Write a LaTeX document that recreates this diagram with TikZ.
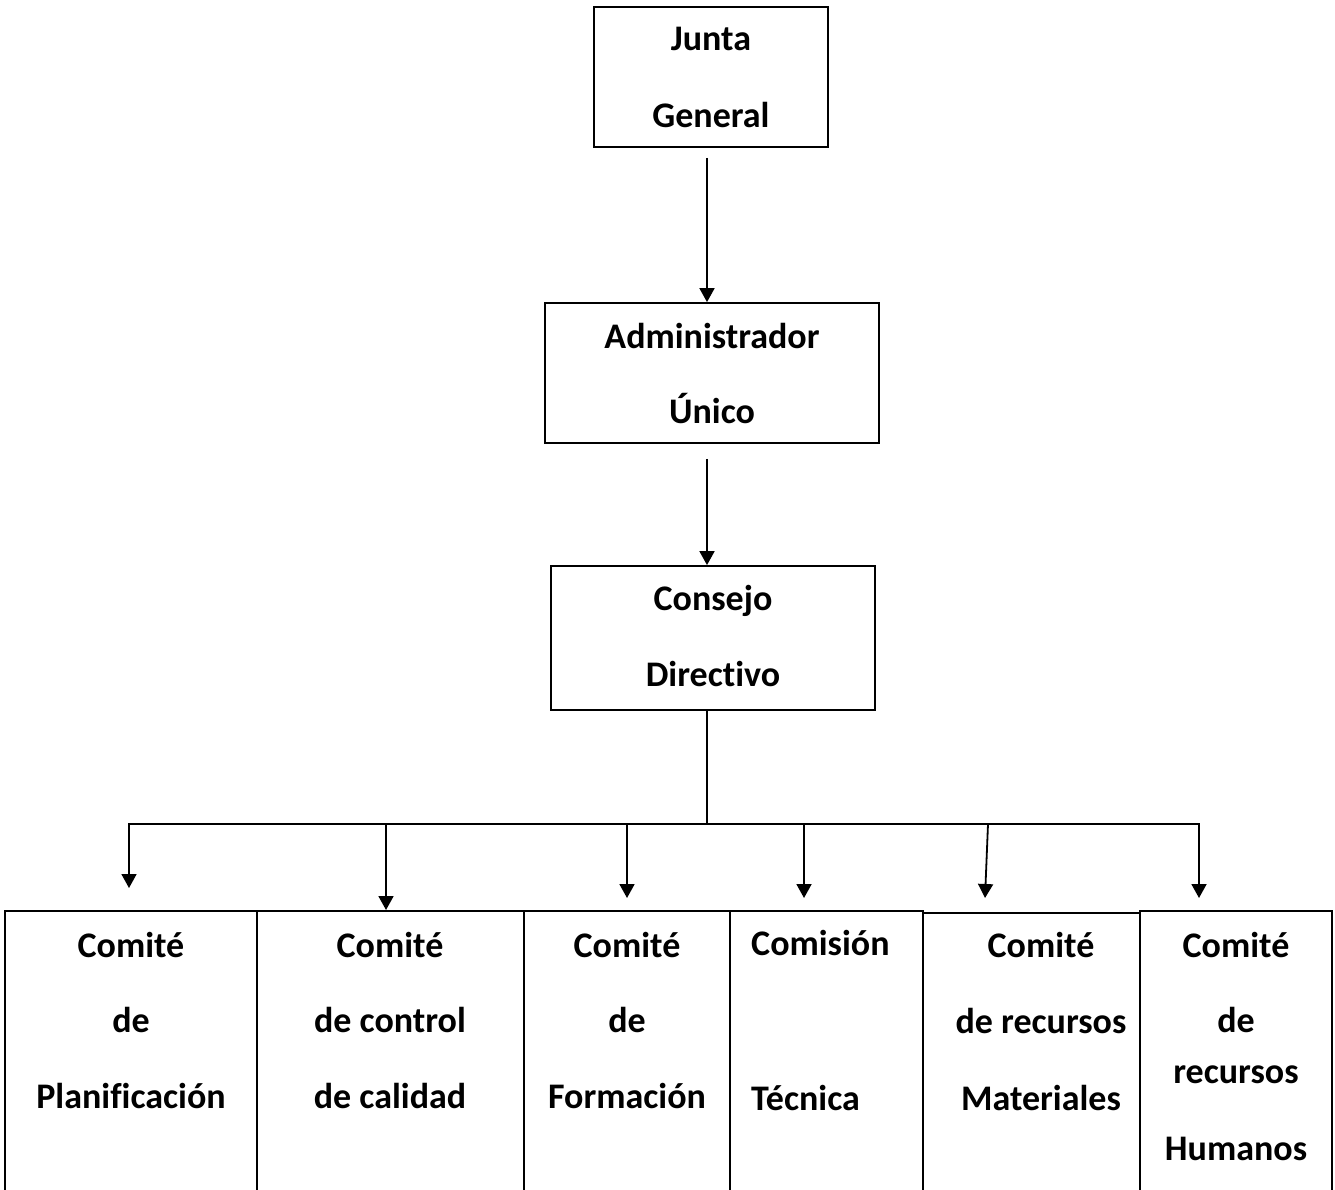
\documentclass[tikz,border=0pt]{standalone}
\usepackage{fontspec}
\setmainfont{Carlito}[Ligatures={NoCommon,NoRare}]
\usetikzlibrary{arrows.meta}
\tikzset{
  box/.style={draw, line width=1.8pt, inner sep=0pt},
  lbl/.style={anchor=base, inner sep=0pt, font=\fontsize{36}{40}\selectfont\bfseries},
  lbll/.style={lbl, anchor=base west},
  con/.style={line width=1.8pt},
  arr/.style={con, -{Triangle[length=14pt,width=15pt]}}
}
\begin{document}
\begin{tikzpicture}[x=1pt,y=-1pt]
\clip (0,0) rectangle (1335,1190);
% top boxes
\node[box, minimum width=234pt, minimum height=140pt] (jg) at (711,77) {};
\node[box, minimum width=334pt, minimum height=140pt] (ad) at (712,373) {};
\node[box, minimum width=324pt, minimum height=144pt] (cd) at (713,638) {};
\node[lbl] (jg1) at (711,51) {Junta};
\node[lbl] (jg2) at (711,128) {General};
\node[lbl] (ad1) at (712,348) {Administrador};
\node[lbl] (ad2) at (712,423) {Único};
\node[lbl] (cd1) at (713,610) {Consejo};
\node[lbl] (cd2) at (713,686) {Directivo};
% bottom boxes
\node[box, minimum width=252pt, minimum height=289pt] (b1) at (131,1055.5) {};
\node[box, minimum width=267pt, minimum height=289pt] (b2) at (390.5,1055.5) {};
\node[box, minimum width=206pt, minimum height=289pt] (b3) at (627,1055.5) {};
\node[box, minimum width=193pt, minimum height=289pt] (b4) at (826.5,1055.5) {};
\node[box, minimum width=217pt, minimum height=287pt] (b5) at (1031.5,1056.5) {};
\node[box, minimum width=192pt, minimum height=289pt] (b6) at (1236,1055.5) {};
\node[lbl] (b1a) at (131,957) {Comité};
\node[lbl] (b1b) at (131,1032) {de};
\node[lbl] (b1c) at (131,1108) {Planificación};
\node[lbl] (b2a) at (390,957) {Comité};
\node[lbl] (b2b) at (390,1032) {de control};
\node[lbl] (b2c) at (390,1108) {de calidad};
\node[lbl] (b3a) at (627,957) {Comité};
\node[lbl] (b3b) at (627,1032) {de};
\node[lbl] (b3c) at (627,1108) {Formación};
\node[lbll] (b4a) at (751,955) {Comisión};
\node[lbll] (b4b) at (751,1110) {Técnica};
\node[lbl] (b5a) at (1041,957) {Comité};
\node[lbl] (b5b) at (1041,1033) {de recursos};
\node[lbl] (b5c) at (1041,1110) {Materiales};
\node[lbl] (b6a) at (1236,957) {Comité};
\node[lbl] (b6b) at (1236,1032) {de};
\node[lbl] (b6c) at (1236,1083) {recursos};
\node[lbl] (b6d) at (1236,1160) {Humanos};
% connector points
\coordinate (hub) at (707,824);
\coordinate (e1) at (129,888);
\coordinate (e2) at (386,910);
\coordinate (e3) at (627,898);
\coordinate (e4) at (804,898);
\coordinate (s5) at (988,824);
\coordinate (e5) at (985,898);
\coordinate (e6) at (1199,898);
% connectors
\draw[arr] ([yshift=-10pt]jg.south -| hub) -- (ad.north -| hub);
\draw[arr] ([yshift=-15pt]ad.south -| hub) -- (cd.north -| hub);
\draw[con] (cd.south -| hub) -- (hub);
\draw[arr] (hub) -| (e1);
\draw[arr] (hub) -| (e6);
\draw[arr] (e2 |- hub) -- (e2);
\draw[arr] (e3 |- hub) -- (e3);
\draw[arr] (e4 |- hub) -- (e4);
\draw[arr] (s5) -- (e5);
\end{tikzpicture}
\end{document}
